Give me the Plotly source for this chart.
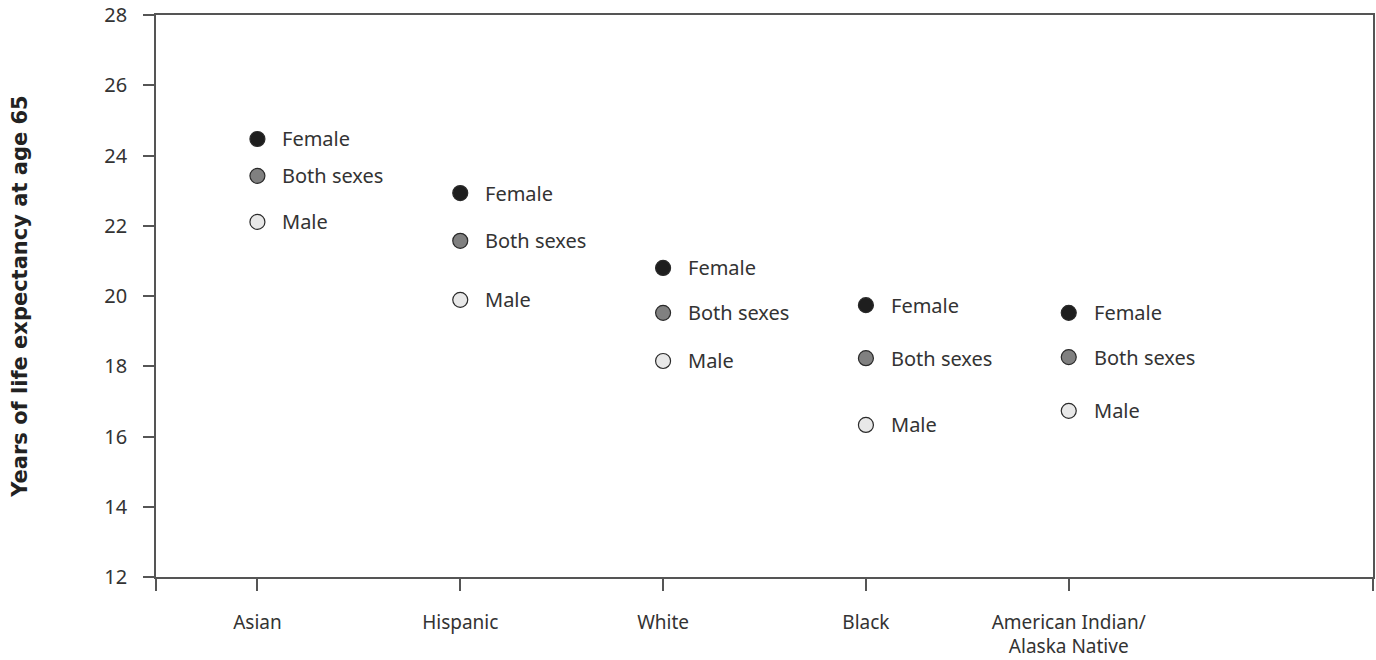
import plotly.graph_objects as go

categories = ["Asian", "Hispanic", "White", "Black", "American Indian/<br>Alaska Native"]
female = [24.47, 22.93, 20.8, 19.74, 19.52]
both = [23.42, 21.57, 19.52, 18.23, 18.26]
male = [22.11, 19.89, 18.15, 16.33, 16.73]
y_ticks = [12, 14, 16, 18, 20, 22, 24, 26, 28]

FONT = "Noto Sans"
xs = list(range(len(categories)))

series = [
    ("Female", female, "#1e1e1e"),
    ("Both sexes", both, "#808080"),
    ("Male", male, "#e8e8e8"),
]

fig = go.Figure()
annotations = []
for name, vals, color in series:
    fig.add_trace(go.Scatter(
        x=xs, y=vals, mode="markers", name=name,
        marker=dict(size=15, color=color, line=dict(color="#2a2a2a", width=1.2)),
        showlegend=False, hoverinfo="y",
    ))
    for x, v in zip(xs, vals):
        annotations.append(dict(
            x=x, y=v, xref="x", yref="y", text=name, showarrow=False,
            xanchor="left", yanchor="middle", xshift=23,
            font=dict(family=FONT, size=20, color="#333333"),
        ))

tickvals = [-0.5] + xs + [5.5]
ticktext = [""] + categories + [""]

fig.update_layout(
    width=1376, height=660,
    margin=dict(l=156, r=3, t=15, b=83),
    paper_bgcolor="white", plot_bgcolor="white",
    annotations=annotations,
    xaxis=dict(
        range=[-0.5, 5.5], tickvals=tickvals, ticktext=ticktext,
        automargin=False,
        showgrid=False, zeroline=False,
        showline=True, linecolor="#555555", linewidth=1.5, mirror=True,
        ticks="outside", ticklen=12, tickwidth=1.5, tickcolor="#555555",
        ticklabelstandoff=15,
        tickfont=dict(family=FONT, size=19, color="#333333"),
    ),
    yaxis=dict(
        range=[12, 28], tickvals=y_ticks,
        automargin=False,
        showgrid=False, zeroline=False,
        showline=True, linecolor="#555555", linewidth=1.5, mirror=True,
        ticks="outside", ticklen=11, tickwidth=1.5, tickcolor="#555555",
        ticklabelstandoff=12,
        tickfont=dict(family=FONT, size=20, color="#333333"),
        title=dict(text="<b>Years of life expectancy at age 65</b>",
                   font=dict(family="DejaVu Sans", size=21, color="#222222"), standoff=71),
    ),
)

post = (
    "document.documentElement.style.margin='0';"
    "document.documentElement.style.overflow='hidden';"
    "document.body.style.margin='0';"
    "document.body.style.overflow='hidden';"
)

fig.write_html("out.html", config={"displayModeBar": False}, post_script=post)
